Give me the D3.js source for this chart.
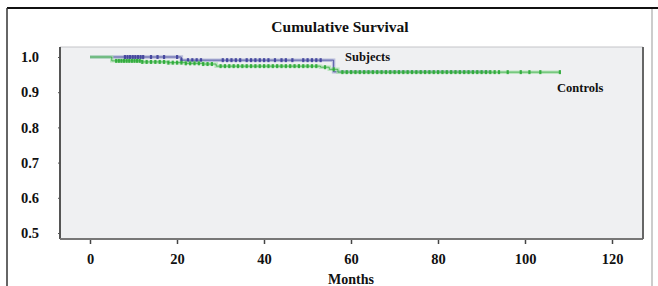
<!DOCTYPE html>
<html>
<head>
<meta charset="utf-8">
<script src="https://cdn.jsdelivr.net/npm/d3@7"></script>
<style>
  body { margin: 0; background: #fff; }
  svg text { font-family: "Liberation Serif", "Times New Roman", serif; font-weight: bold; fill: #111; }
</style>
</head>
<body>
<svg id="chart" width="658" height="286"></svg>
<script>
// Kaplan-Meier steps (month where the curve drops, survival after the drop)
const subjectStepMonths = [0, 21, 56];
const subjectSurvival   = [1.0, 0.991, 0.958];
const subjectEndMonth   = 92;

const controlStepMonths = [0, 5, 12, 18, 22, 26, 29, 53, 55, 57];
const controlSurvival   = [1.0, 0.989, 0.986, 0.984, 0.982, 0.980, 0.974, 0.971, 0.965, 0.957];
const controlEndMonth   = 108;

// censored observations (months)
const subjectCensored = [8, 8.6, 9.2, 9.8, 10.4, 11, 11.6, 12.2, 14, 15.5, 17, 20, 21,
  22.5, 23.5, 24.5, 25.5, 30.5, 31.5, 32.5, 33.5, 34.5, 36, 37, 38, 39, 40, 41, 42.5,
  44, 45, 46.5, 49, 50, 51, 52, 53];
const controlCensored = [6, 6.6, 7.2, 7.8, 8.4, 9, 9.6, 10.2, 10.8, 11.4, 12, 13, 14, 15,
  16, 17, 18, 19, 20, 21, 22, 23, 24, 25, 26, 27, 28, 30, 31, 32, 33, 34, 35, 36, 37, 38,
  39, 40, 41, 42, 43, 44, 45, 46, 47, 48, 49, 50, 51, 52, 54, 56, 58, 59, 60, 61, 62, 63,
  64, 65, 66, 67, 68, 69, 70, 71, 72, 73, 74, 75, 76, 77, 78, 79, 80, 81, 82, 83, 84, 85,
  86, 87, 88, 89, 90, 91, 92, 93, 94, 96, 99, 101, 103.5, 108];

const xTicks = [0, 20, 40, 60, 80, 100, 120];
const yTicks = [0.5, 0.6, 0.7, 0.8, 0.9, 1.0];

const svg = d3.select("#chart");

// outer frame
svg.append("line").attr("x1", 7).attr("x2", 658).attr("y1", 8).attr("y2", 8)
  .attr("stroke", "#111").attr("stroke-width", 2);
svg.append("line").attr("x1", 7).attr("x2", 7).attr("y1", 8).attr("y2", 286)
  .attr("stroke", "#333").attr("stroke-width", 1.5);
svg.append("line").attr("x1", 652).attr("x2", 652).attr("y1", 9).attr("y2", 286)
  .attr("stroke", "#999").attr("stroke-width", 1);

const plot = { left: 60, top: 47, right: 643, bottom: 239 };

const x = d3.scaleLinear().domain([0, 120]).range([90, 612]);
const y = d3.scaleLinear().domain([0.5, 1.0]).range([233, 57]);

// plot background and border
svg.append("rect")
  .attr("x", plot.left).attr("y", plot.top)
  .attr("width", plot.right - plot.left).attr("height", plot.bottom - plot.top)
  .attr("fill", "#eff0f2");
svg.append("line").attr("x1", plot.left).attr("x2", plot.right).attr("y1", plot.top).attr("y2", plot.top)
  .attr("stroke", "#c4c4c8").attr("stroke-width", 1);
svg.append("line").attr("x1", plot.left).attr("x2", plot.left).attr("y1", plot.top).attr("y2", plot.bottom)
  .attr("stroke", "#555").attr("stroke-width", 2);
svg.append("line").attr("x1", plot.left).attr("x2", plot.right).attr("y1", plot.bottom).attr("y2", plot.bottom)
  .attr("stroke", "#777").attr("stroke-width", 2);
svg.append("line").attr("x1", plot.right).attr("x2", plot.right).attr("y1", plot.top).attr("y2", plot.bottom)
  .attr("stroke", "#666").attr("stroke-width", 2);

// axes
const yAxis = svg.append("g").attr("transform", `translate(${plot.left},0)`)
  .call(d3.axisLeft(y).tickValues(yTicks).tickFormat(d3.format(".1f")).tickSize(2).tickPadding(19));
yAxis.select(".domain").remove();
yAxis.selectAll("line").attr("stroke", "#555");
yAxis.selectAll("text").attr("font-size", 14.5);

const xAxis = svg.append("g").attr("transform", `translate(0,${plot.bottom + 1})`)
  .call(d3.axisBottom(x).tickValues(xTicks).tickSize(4).tickPadding(10));
xAxis.select(".domain").remove();
xAxis.selectAll("line").attr("stroke", "#444").attr("stroke-width", 1.5);
xAxis.selectAll("text").attr("font-size", 14.5);

// titles
svg.append("text").attr("x", 340).attr("y", 32).attr("text-anchor", "middle")
  .attr("font-size", 15.5).text("Cumulative Survival");
svg.append("text").attr("x", 351).attr("y", 284).attr("text-anchor", "middle")
  .attr("font-size", 14).text("Months");

// step curve helpers
function stepPoints(months, surv, end) {
  const pts = [];
  months.forEach((m, i) => {
    if (i > 0) pts.push([m, surv[i - 1]]);
    pts.push([m, surv[i]]);
  });
  pts.push([end, surv[surv.length - 1]]);
  return pts;
}
function survivalAt(months, surv, t) {
  let v = surv[0];
  months.forEach((m, i) => { if (t >= m) v = surv[i]; });
  return v;
}

const line = d3.line().x(d => x(d[0])).y(d => y(d[1]));

const series = [
  { name: "Subjects", months: subjectStepMonths, surv: subjectSurvival, end: subjectEndMonth,
    censored: subjectCensored, color: "#3d3f9a", halo: "#a4a8d2" },
  { name: "Controls", months: controlStepMonths, surv: controlSurvival, end: controlEndMonth,
    censored: controlCensored, color: "#2aa836", halo: "#a8e0ac" }
];

series.forEach(s => {
  const pts = stepPoints(s.months, s.surv, s.end);
  const g = svg.append("g");
  g.append("path").datum(pts).attr("d", line)
    .attr("fill", "none").attr("stroke", s.halo).attr("stroke-width", 3.5).attr("opacity", 0.7);
  g.append("path").datum(pts).attr("d", line)
    .attr("fill", "none").attr("stroke", s.color).attr("stroke-width", 1).attr("opacity", 0.75);
  g.selectAll("rect.cens").data(s.censored).join("rect")
    .attr("class", "cens")
    .attr("x", d => x(d) - 1)
    .attr("y", d => y(survivalAt(s.months, s.surv, d)) - 2)
    .attr("width", 2.2).attr("height", 4)
    .attr("fill", s.color).attr("opacity", 0.9);
});

// curve labels
svg.append("text").attr("x", 345).attr("y", 61).attr("font-size", 12.5).text("Subjects");
svg.append("text").attr("x", 557).attr("y", 92).attr("font-size", 12.5).text("Controls");
</script>
</body>
</html>
